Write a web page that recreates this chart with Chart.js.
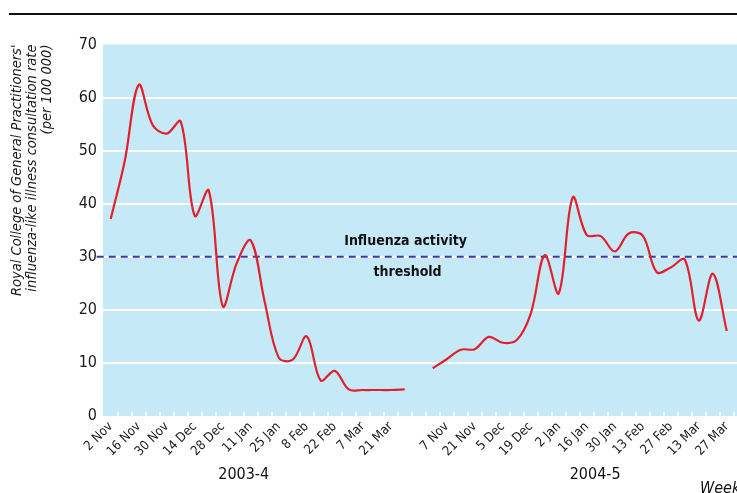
<!DOCTYPE html>
<html>
<head>
<meta charset="utf-8">
<script src="https://cdn.jsdelivr.net/npm/chart.js@4.4.1/dist/chart.umd.min.js"></script>
<style>
html,body{margin:0;padding:0;background:#fff}
#wrap{width:737px;height:493px;position:relative}
</style>
</head>
<body>
<div id="wrap"><canvas id="grafico"></canvas></div>
<script>
// semanas com rotulo (a cada 2 semanas)
const rotulos2003=['2 Nov','16 Nov','30 Nov','14 Dec','28 Dec','11 Jan','25 Jan','8 Feb','22 Feb','7 Mar','21 Mar']
const rotulos2004=['7 Nov','21 Nov','5 Dec','19 Dec','2 Jan','16 Jan','30 Jan','13 Feb','27 Feb','13 Mar','27 Mar']

// taxa semanal por 100 000
const taxa2003=[37.1,48.0,62.4,54.8,53.2,55.5,37.7,42.5,20.7,28.8,33.1,21.5,11.0,10.6,15.0,6.7,8.5,5.0,4.9,4.9,4.9,5.0]
const taxa2004=[9.0,10.7,12.5,12.6,14.9,13.8,14.3,19.3,30.3,23.1,41.2,34.1,33.9,31.0,34.4,34.0,27.1,28.0,29.5,18.0,26.8,16.0]

const limiar=30
const ticksY=[0,10,20,30,40,50,60,70]

const temporadas=['2003-4','2004-5']

const inicio2004=23
const fonte="'DejaVu Sans Condensed','Liberation Sans Narrow','Liberation Sans',sans-serif"

let rotuloX={}
rotulos2003.forEach((r,i)=>{rotuloX[i*2]=r})
rotulos2004.forEach((r,i)=>{rotuloX[inicio2004+1+i*2]=r})
let posicoesX=Object.keys(rotuloX).map(Number)

let pontos2003=taxa2003.map((v,i)=>({x:i,y:v}))
let pontos2004=taxa2004.map((v,i)=>({x:inicio2004+i,y:v}))

const xMin=-0.55
const xMax=44.73

let decoracao={
id:'decoracao',
beforeDraw(chart){
let{ctx,chartArea:a}=chart
ctx.save()
ctx.fillStyle='#c6e9f8'
ctx.fillRect(a.left,a.top,a.right-a.left,a.bottom-a.top)
ctx.restore()
},
beforeDatasetsDraw(chart){
let{ctx,chartArea:a,scales}=chart
ctx.save()
ctx.strokeStyle='#ffffff'
ctx.lineWidth=1.5
for(let k=0;k<45;k++){
let px=Math.round(scales.x.getPixelForValue(k+0.5))
ctx.beginPath()
ctx.moveTo(px,a.bottom)
ctx.lineTo(px,a.bottom-4)
ctx.stroke()
}
ctx.restore()
},
afterDraw(chart){
let{ctx,chartArea:a,scales}=chart
let x=scales.x
let y=scales.y
ctx.save()
// linha do topo
ctx.strokeStyle='#111'
ctx.lineWidth=2
ctx.beginPath()
ctx.moveTo(9,14)
ctx.lineTo(737,14)
ctx.stroke()

ctx.fillStyle='#111'
ctx.textAlign='center'
ctx.textBaseline='middle'
ctx.font=`bold 14px ${fonte}`
ctx.fillText('Influenza activity',x.getPixelForValue(21.06),y.getPixelForValue(limiar)-15)
ctx.fillText('threshold',x.getPixelForValue(21.2),y.getPixelForValue(limiar)+16)

ctx.font=`16px ${fonte}`
ctx.fillText(temporadas[0],x.getPixelForValue(9.5),a.bottom+59)
ctx.fillText(temporadas[1],x.getPixelForValue(34.6),a.bottom+59)

ctx.textAlign='left'
ctx.font=`italic 16px ${fonte}`
ctx.fillText('Week',700,a.bottom+73)
ctx.restore()
}
}

new Chart(document.getElementById('grafico'),{
type:'line',
data:{
datasets:[{
data:pontos2003,
borderColor:'#e3202a',
borderWidth:2.2,
pointRadius:0,
tension:0.35
},{
data:pontos2004,
borderColor:'#e3202a',
borderWidth:2.2,
pointRadius:0,
tension:0.35
},{
data:[{x:xMin-0.45,y:limiar},{x:xMax,y:limiar}],
borderColor:'#3a3aa6',
borderWidth:2,
borderDash:[7,5],
pointRadius:0,
clip:false
}]
},
options:{
responsive:true,
maintainAspectRatio:false,
animation:false,
devicePixelRatio:1,
layout:{padding:{top:44.5,left:0,right:0,bottom:0}},
plugins:{
legend:{display:false},
tooltip:{enabled:false}
},
scales:{
x:{
type:'linear',
min:xMin,
max:xMax,
afterBuildTicks:s=>{s.ticks=posicoesX.map(v=>({value:v}))},
ticks:{
autoSkip:false,
minRotation:45,
maxRotation:45,
padding:3,
color:'#1a1a1a',
font:{family:fonte,size:13},
callback:v=>rotuloX[v]||''
},
grid:{display:false,drawTicks:false},
border:{display:false},
afterFit:s=>{
s.height=77
s.paddingLeft=0
s.paddingRight=0
}
},
y:{
min:0,
max:70,
afterBuildTicks:s=>{s.ticks=ticksY.map(v=>({value:v}))},
ticks:{
padding:6,
color:'#1a1a1a',
font:{family:fonte,size:16}
},
grid:{
color:c=>(c.tick.value===0||c.tick.value===70)?'rgba(0,0,0,0)':'#ffffff',
lineWidth:2,
drawTicks:false
},
border:{display:false},
title:{
display:true,
text:["Royal College of General Practitioners'",'influenza-like illness consultation rate','(per 100 000)'],
align:'end',
color:'#1a1a1a',
font:{family:fonte,size:14.5,style:'italic',lineHeight:1.03},
padding:{top:10,bottom:0}
},
afterFit:s=>{
s.width=103
}
}
}
},
plugins:[decoracao]
})
</script>
</body>
</html>
